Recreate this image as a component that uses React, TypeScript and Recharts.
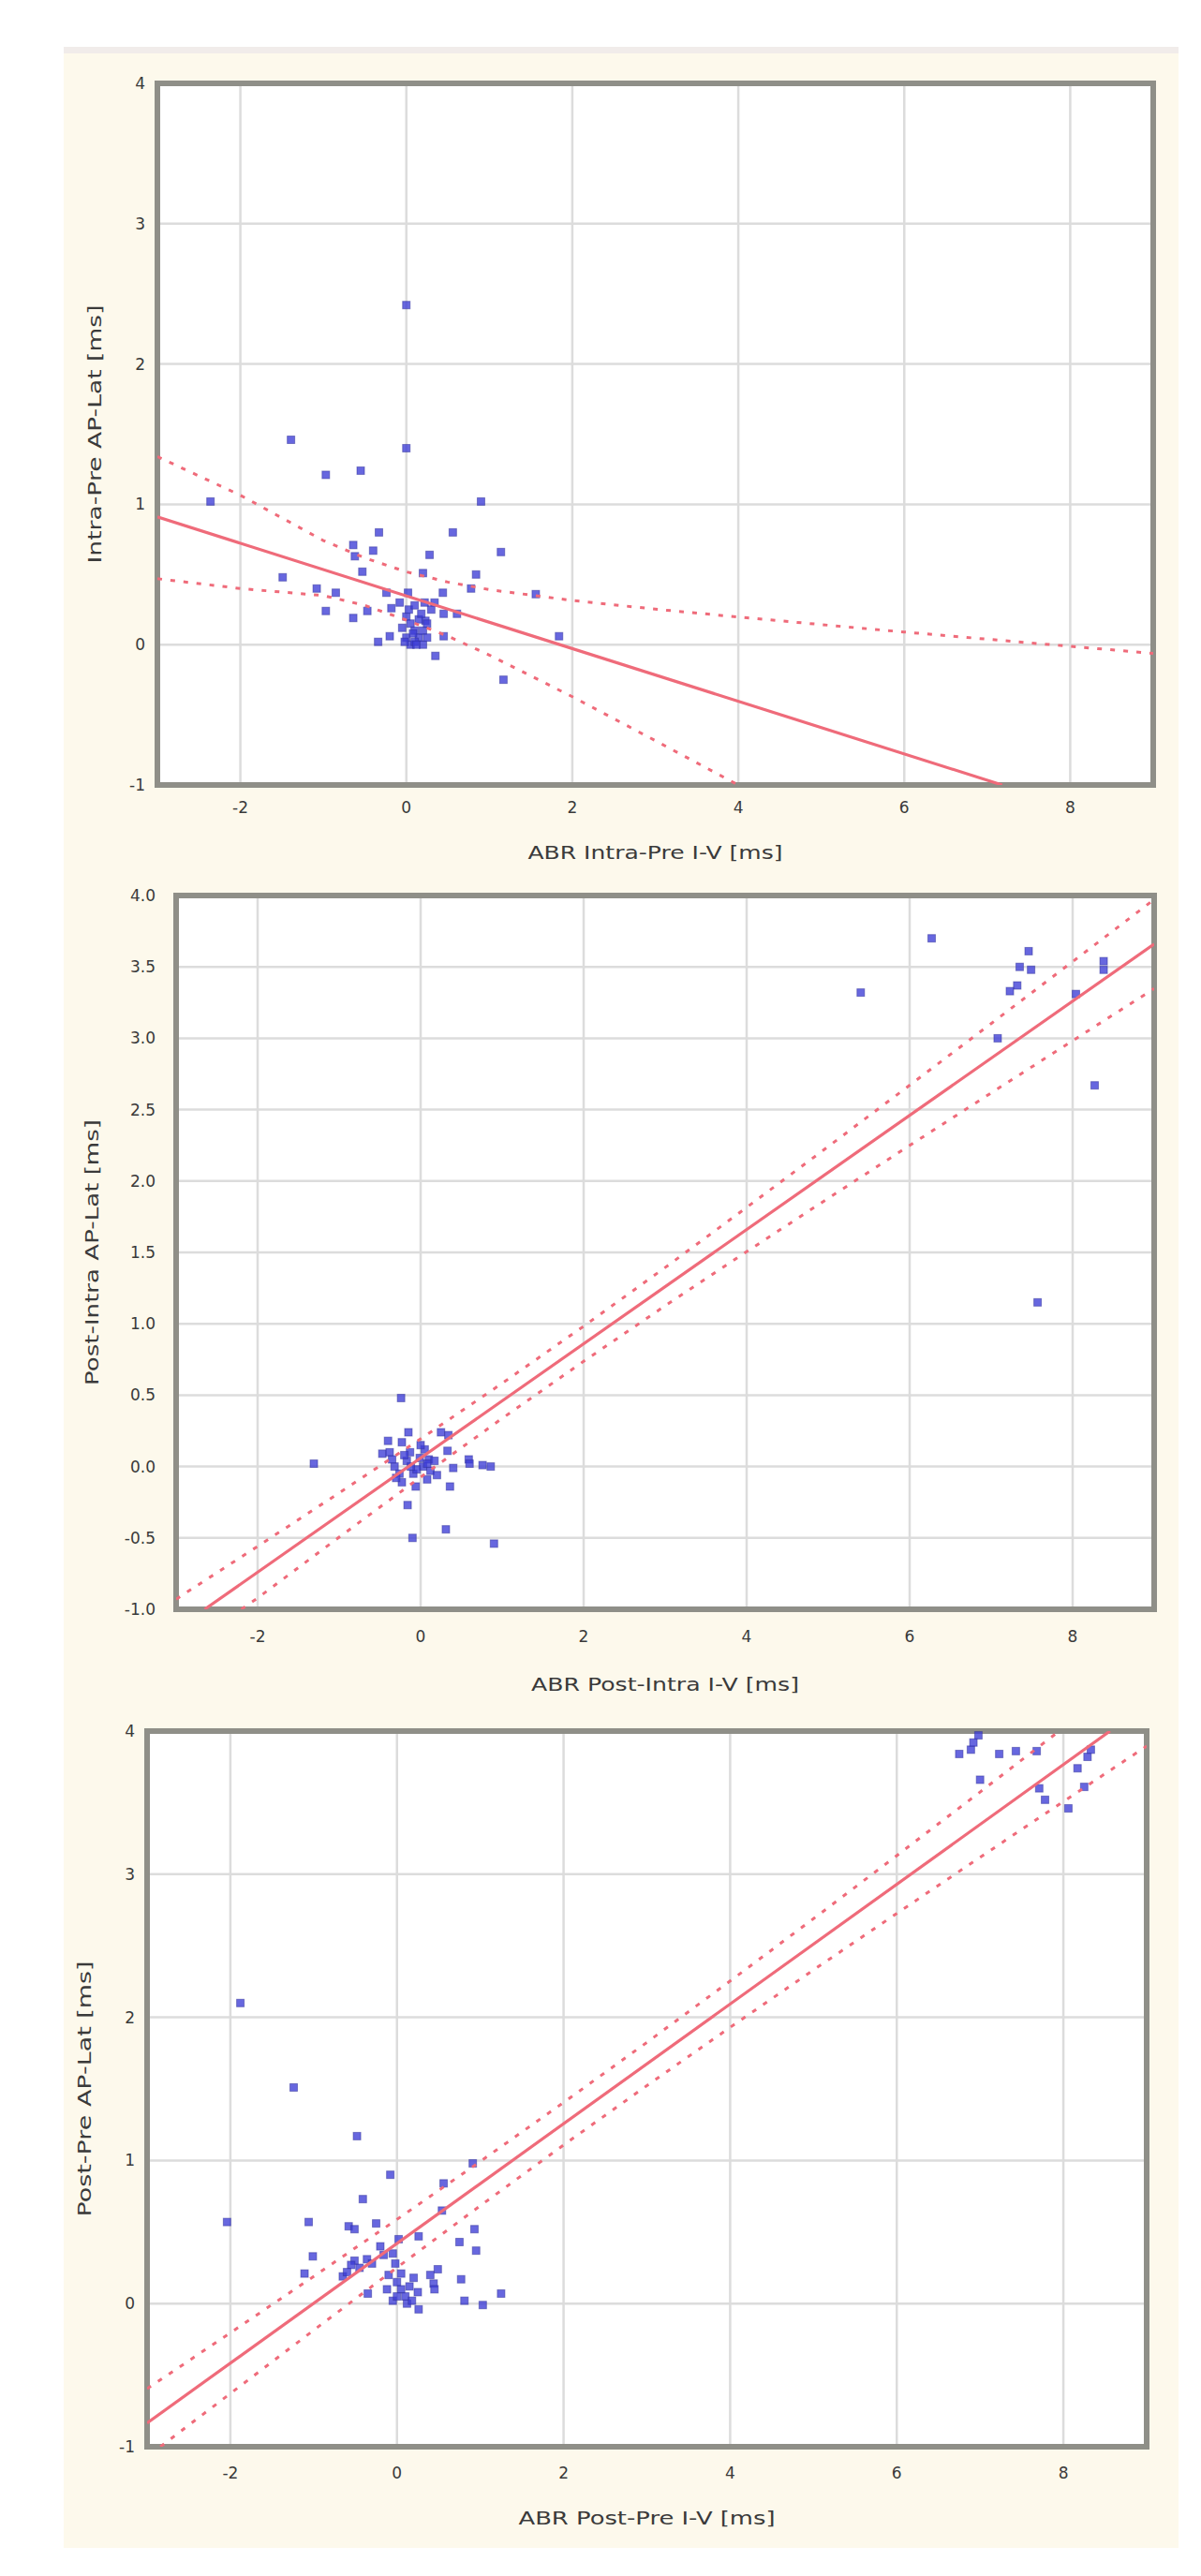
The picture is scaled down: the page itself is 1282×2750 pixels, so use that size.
import React from 'react';
import { ScatterChart, Scatter, XAxis, YAxis, CartesianGrid, ReferenceArea, Label } from 'recharts';

type P = { x: number; y: number };
const toPts = (arr: number[][]): P[] => arr.map(([x, y]) => ({ x, y }));

// ---------- tick labels ----------
const xTicks = [-2, 0, 2, 4, 6, 8];
const yTicksWhole = [-1, 0, 1, 2, 3, 4];
const yTicksHalf = [-1, -0.5, 0, 0.5, 1, 1.5, 2, 2.5, 3, 3.5, 4];

// ---------- chart 1 : Intra-Pre ----------
const c1Points = toPts([
  [0.0, 2.42], [-1.39, 1.46], [0.0, 1.4], [-0.97, 1.21], [-0.55, 1.24], [-2.36, 1.02], [0.9, 1.02],
  [-0.33, 0.8], [0.56, 0.8], [-0.4, 0.67], [0.28, 0.64], [1.14, 0.66], [-0.64, 0.71], [-0.62, 0.63],
  [0.2, 0.51], [0.84, 0.5], [-1.49, 0.48], [-1.08, 0.4], [-0.85, 0.37], [-0.53, 0.52], [-0.24, 0.37],
  [1.56, 0.36], [0.78, 0.4], [0.44, 0.37], [0.02, 0.37], [-0.97, 0.24], [-0.64, 0.19], [-0.47, 0.24],
  [-0.18, 0.26], [0.45, 0.22], [0.61, 0.22], [0.34, 0.3], [0.23, 0.17], [0.45, 0.06], [-0.34, 0.02],
  [-0.2, 0.06], [1.84, 0.06], [1.17, -0.25], [0.35, -0.08],
  [0.0, 0.2], [0.05, 0.15], [0.1, 0.1], [0.15, 0.05], [0.2, 0.0], [0.0, 0.05], [0.05, 0.0], [0.1, 0.02],
  [0.2, 0.1], [0.25, 0.05], [-0.05, 0.12], [0.15, 0.18], [0.08, 0.08], [0.12, 0.0], [0.03, 0.25],
  [0.25, 0.15], [0.18, 0.22], [-0.02, 0.02], [0.1, 0.28], [-0.08, 0.3], [0.3, 0.25], [0.22, 0.3],
]);
const c1Fit = toPts([[-3, 0.91], [7.18, -1.0]]);
const c1Upper = toPts([
  [-3, 1.34], [-2, 1.065], [-1, 0.742], [-0.5, 0.618], [0, 0.519], [0.5, 0.446], [1, 0.392], [2, 0.315],
  [3, 0.253], [4, 0.197], [5, 0.143], [6, 0.09], [7, 0.039], [8, -0.012], [9, -0.062],
]);
const c1Lower = toPts([
  [-3, 0.47], [-2, 0.4], [-1, 0.35], [-0.5, 0.28], [0, 0.175], [0.5, 0.061], [1, -0.074], [2, -0.371],
  [3, -0.684], [4, -1.0],
]);

// ---------- chart 2 : Post-Intra ----------
const c2Points = toPts([
  [6.27, 3.7], [5.4, 3.32], [7.46, 3.61], [7.35, 3.5], [7.49, 3.48], [7.32, 3.37], [7.23, 3.33],
  [8.38, 3.54], [8.38, 3.48], [8.04, 3.31], [7.08, 3.0], [8.27, 2.67], [7.57, 1.15],
  [-0.24, 0.48], [-0.15, 0.24], [-0.4, 0.18], [-0.23, 0.17], [-0.47, 0.09], [-1.31, 0.02], [-0.32, 0.0],
  [-0.17, 0.04], [-0.01, 0.06], [0.1, 0.05], [-0.09, -0.05], [-0.23, -0.11], [-0.06, -0.14], [0.08, -0.09],
  [0.17, 0.04], [0.25, 0.24], [0.34, 0.22], [0.33, 0.11], [0.4, -0.01], [0.59, 0.05], [0.76, 0.01],
  [0.36, -0.14], [-0.16, -0.27], [-0.1, -0.5], [0.31, -0.44], [0.9, -0.54], [0.03, 0.0], [-0.26, -0.05],
  [-0.38, 0.1], [-0.13, 0.1], [0.05, 0.12], [-0.05, -0.02], [0.12, -0.03], [-0.2, 0.08], [0.2, -0.06],
  [-0.3, -0.08], [0.0, 0.15], [-0.12, 0.0], [0.08, 0.02], [-0.35, 0.05], [0.86, 0.0], [0.6, 0.02],
]);
const c2Fit = toPts([[-2.65, -1.0], [9, 3.66]]);
const c2Upper = toPts([
  [-3, -0.929], [-2, -0.559], [-1, -0.185], [0, 0.194], [1, 0.583], [2, 0.983], [3, 1.394], [4, 1.815],
  [5, 2.241], [6, 2.671], [7, 3.103], [8, 3.537], [9, 3.972],
]);
const c2Lower = toPts([
  [-2.2, -1.0], [-2, -0.921], [-1, -0.495], [0, -0.074], [1, 0.337], [2, 0.737], [3, 1.126], [4, 1.505],
  [5, 1.879], [6, 2.249], [7, 2.617], [8, 2.983], [9, 3.348],
]);

// ---------- chart 3 : Post-Pre ----------
const c3Points = toPts([
  [6.75, 3.84], [6.89, 3.87], [6.98, 3.97], [6.92, 3.92], [7.23, 3.84], [7.43, 3.86], [7.68, 3.86],
  [7.0, 3.66], [7.71, 3.6], [7.78, 3.52], [8.06, 3.46], [8.25, 3.61], [8.29, 3.82], [8.33, 3.87], [8.17, 3.74],
  [-1.88, 2.1], [-1.24, 1.51], [-0.48, 1.17], [0.91, 0.98], [-0.08, 0.9], [0.56, 0.84], [-0.41, 0.73], [0.54, 0.65],
  [-2.04, 0.57], [-1.06, 0.57], [-0.58, 0.54], [-0.51, 0.52], [-0.25, 0.56], [0.93, 0.52], [0.75, 0.43],
  [0.95, 0.37], [-1.01, 0.33], [-1.11, 0.21], [-0.51, 0.3], [-0.36, 0.31], [-0.16, 0.34], [0.02, 0.45],
  [0.26, 0.47], [-0.65, 0.19], [0.77, 0.17], [0.49, 0.24], [0.44, 0.14], [-0.35, 0.07], [0.26, -0.04],
  [1.03, -0.01], [1.25, 0.07], [0.81, 0.02],
  [-0.1, 0.2], [0.0, 0.15], [0.05, 0.1], [0.1, 0.05], [-0.05, 0.02], [0.15, 0.12], [0.2, 0.18], [0.0, 0.05],
  [0.12, 0.0], [-0.12, 0.1], [0.25, 0.08], [0.05, 0.21], [-0.02, 0.28], [0.18, 0.02], [-0.55, 0.27],
  [-0.45, 0.25], [-0.6, 0.22], [-0.3, 0.28], [-0.2, 0.4], [-0.05, 0.35], [0.4, 0.2], [0.45, 0.1],
]);
const c3Fit = toPts([[-3, -0.834], [8.56, 4.0]]);
const c3Upper = toPts([
  [-3, -0.595], [-2, -0.204], [-1, 0.19], [0, 0.588], [1, 0.993], [2, 1.405], [3, 1.825], [4, 2.254],
  [5, 2.689], [6, 3.13], [7, 3.574], [7.95, 4.0],
]);
const c3Lower = toPts([
  [-2.84, -1.0], [-2, -0.628], [-1, -0.186], [0, 0.252], [1, 0.684], [2, 1.108], [3, 1.523], [4, 1.93],
  [5, 2.331], [6, 2.726], [7, 3.118], [8, 3.508], [9, 3.895],
]);

// ---------- styles ----------
const PAGE_W = 1282;
const FONT = '"DejaVu Sans", "Liberation Sans", sans-serif';
const TEXT = '#3a3a3a';
const RED = '#ef6b7a';
const BORDER = '#8f8f88';
const GRID = '#dcdcdc';
const CREAM = '#fdf9ec';
const Y_AXIS_W = 60;
const X_AXIS_H = 90;

const Square = (props: any) => {
  const { cx, cy } = props;
  if (cx == null || cy == null) return <g />;
  return (
    <rect x={cx - 4} y={cy - 4} width={8} height={8} fill="#3c3cd6" fillOpacity={0.78} stroke="#30309a" strokeOpacity={0.5} strokeWidth={1} />
  );
};
const NoShape = () => <g />;

type ChartCfg = {
  svgTop: number; svgH: number;
  l: number; r: number; t: number; b: number;
  yTicks: number[]; yFmt: (v: number) => string;
  xTitle: string; yTitle: string;
  xTitleY: number; xTitleLen: number; yTitleX: number; yTitleLen: number;
  xTickGap: number; yTickGap: number;
  points: P[]; fit: P[]; upper: P[]; lower: P[];
};

const charts: ChartCfg[] = [
  {
    svgTop: 0, svgH: 930, l: 168, r: 1231, t: 89, b: 838,
    yTicks: yTicksWhole, yFmt: (v) => String(v),
    xTitle: 'ABR Intra-Pre I-V [ms]', yTitle: 'Intra-Pre AP-Lat [ms]',
    xTitleY: 910, xTitleLen: 272, yTitleX: 101, yTitleLen: 276, xTickGap: 18, yTickGap: 13,
    points: c1Points, fit: c1Fit, upper: c1Upper, lower: c1Lower,
  },
  {
    svgTop: 930, svgH: 890, l: 188, r: 1232, t: 956, b: 1718,
    yTicks: yTicksHalf, yFmt: (v) => v.toFixed(1),
    xTitle: 'ABR Post-Intra I-V [ms]', yTitle: 'Post-Intra AP-Lat [ms]',
    xTitleY: 1798, xTitleLen: 286, yTitleX: 98, yTitleLen: 284, xTickGap: 23, yTickGap: 22,
    points: c2Points, fit: c2Fit, upper: c2Upper, lower: c2Lower,
  },
  {
    svgTop: 1820, svgH: 900, l: 157, r: 1224, t: 1848, b: 2612,
    yTicks: yTicksWhole, yFmt: (v) => String(v),
    xTitle: 'ABR Post-Pre I-V [ms]', yTitle: 'Post-Pre AP-Lat [ms]',
    xTitleY: 2688, xTitleLen: 274, yTitleX: 90, yTitleLen: 273, xTickGap: 22, yTickGap: 13,
    points: c3Points, fit: c3Fit, upper: c3Upper, lower: c3Lower,
  },
];

function Panel({ c }: { c: ChartCfg }) {
  const margin = {
    top: c.t - c.svgTop,
    right: PAGE_W - c.r,
    bottom: c.svgH - (c.b - c.svgTop) - X_AXIS_H,
    left: c.l - Y_AXIS_W,
  };
  const yMid = (c.t + c.b) / 2 - c.svgTop;
  const xMid = (c.l + c.r) / 2;
  const xTitleLocalY = c.xTitleY - c.svgTop;
  const tickStyle = { fontSize: 17, fill: TEXT, fontFamily: FONT };
  const dashed = { stroke: RED, strokeWidth: 3, strokeDasharray: '5 9' };
  return (
    <div style={{ position: 'absolute', left: 0, top: c.svgTop }}>
      <ScatterChart width={PAGE_W} height={c.svgH} margin={margin}>
        <CartesianGrid stroke={GRID} strokeWidth={2.5} />
        <XAxis
          type="number" dataKey="x" domain={[-3, 9]} ticks={xTicks} allowDataOverflow
          axisLine={false} tickLine={false} tickSize={6} tickMargin={c.xTickGap - 6}
          height={X_AXIS_H} tick={tickStyle} interval={0}
        >
          <Label
            content={() => (
              <text x={xMid} y={xTitleLocalY} textAnchor="middle" dominantBaseline="central"
                fontFamily={FONT} fontSize={19} fill={TEXT} textLength={c.xTitleLen} lengthAdjust="spacingAndGlyphs">
                {c.xTitle}
              </text>
            )}
          />
        </XAxis>
        <YAxis
          type="number" dataKey="y" domain={[-1, 4]} ticks={c.yTicks} allowDataOverflow
          axisLine={false} tickLine={false} tickSize={6} tickMargin={c.yTickGap - 6}
          width={Y_AXIS_W} tick={tickStyle} tickFormatter={c.yFmt} interval={0}
        >
          <Label
            content={() => (
              <text x={c.yTitleX} y={yMid} textAnchor="middle" dominantBaseline="central"
                transform={`rotate(-90, ${c.yTitleX}, ${yMid})`}
                fontFamily={FONT} fontSize={19} fill={TEXT} textLength={c.yTitleLen} lengthAdjust="spacingAndGlyphs">
                {c.yTitle}
              </text>
            )}
          />
        </YAxis>
        <Scatter data={c.points} shape={Square} isAnimationActive={false} />
        <Scatter data={c.upper} shape={NoShape} isAnimationActive={false} line={dashed} />
        <Scatter data={c.lower} shape={NoShape} isAnimationActive={false} line={dashed} />
        <Scatter data={c.fit} shape={NoShape} isAnimationActive={false}
          line={{ stroke: RED, strokeWidth: 3.2 }} />
        <ReferenceArea x1={-3} x2={9} y1={-1} y2={4} fill="none" fillOpacity={0} stroke={BORDER} strokeWidth={6} />
      </ScatterChart>
    </div>
  );
}

export default function App() {
  return (
    <div style={{ position: 'absolute', left: 0, top: 0, width: PAGE_W, height: 2750, background: '#ffffff', overflow: 'hidden' }}>
      <div style={{ position: 'absolute', left: 68, top: 52, width: 1190, height: 2668, background: CREAM }} />
      <div style={{ position: 'absolute', left: 68, top: 50, width: 1190, height: 7, background: '#f1ecea' }} />
      {charts.map((c, i) => (
        <div key={i} style={{ position: 'absolute', left: c.l, top: c.t, width: c.r - c.l, height: c.b - c.t, background: '#ffffff' }} />
      ))}
      {charts.map((c, i) => (
        <Panel key={'p' + i} c={c} />
      ))}
    </div>
  );
}
